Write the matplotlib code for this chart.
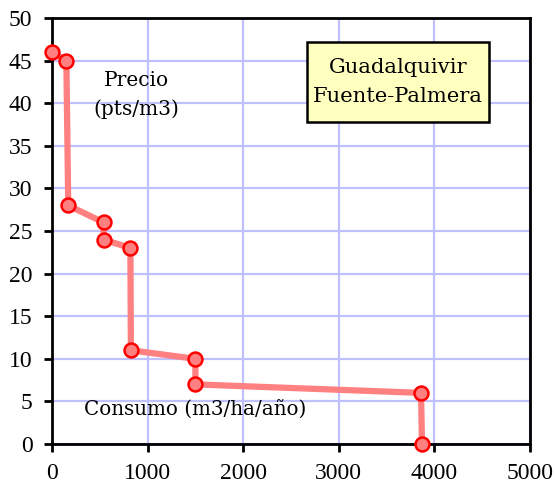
import matplotlib
matplotlib.use("Agg")
import matplotlib.pyplot as plt
from matplotlib.patches import Rectangle

# Consumo (m3/ha/año) vs precio (pts/m3) demand curve
consumo = [0, 150, 170, 540, 540, 820, 825, 1500, 1500, 3860, 3870]
precio = [46, 45, 28, 26, 24, 23, 11, 10, 7, 6, 0]
x_ticks = [0, 1000, 2000, 3000, 4000, 5000]
y_ticks = [0, 5, 10, 15, 20, 25, 30, 35, 40, 45, 50]

plt.rcParams['font.family'] = ['DejaVu Serif']

fig = plt.figure(figsize=(5.55, 4.91), dpi=100)
ax = fig.add_axes([0.0937, 0.0957, 0.8613, 0.8676])

ax.plot(consumo, precio, color='#ff8080', lw=4.5, zorder=3,
        marker='o', markersize=10, markerfacecolor='#ff8080',
        markeredgecolor='#ff0000', markeredgewidth=1.8, clip_on=False)

ax.set_xlim(0, 5000)
ax.set_ylim(0, 50)
ax.set_xticks(x_ticks)
ax.set_yticks(y_ticks)
ax.grid(True, color='#c0c0ff', lw=1.6, zorder=0)
ax.set_axisbelow(True)
for s in ax.spines.values():
    s.set_linewidth(2)
    s.set_color('black')
ax.tick_params(axis='both', width=2, length=6, direction='out', color='black',
               labelsize=17, labelfontfamily='Liberation Serif')
ax.tick_params(axis='x', pad=8)
ax.tick_params(axis='y', pad=8)

ax.text(884, 41, 'Precio\n(pts/m3)', ha='center', va='center', fontsize=14.5, linespacing=1.6)
ax.text(1496, 4.1, 'Consumo (m3/ha/año)', ha='center', va='center', fontsize=14.3)

# caption box
box = Rectangle((0.5335, 0.756), 0.3805, 0.188, transform=ax.transAxes,
                facecolor='#ffffc0', edgecolor='black', lw=1.8, zorder=4)
ax.add_patch(box)
ax.text(0.5335 + 0.3805 / 2, 0.756 + 0.188 / 2, 'Guadalquivir\nFuente-Palmera',
        transform=ax.transAxes, ha='center', va='center', fontsize=15.2,
        linespacing=1.7, zorder=5)

fig.savefig('out.png', dpi=100)
